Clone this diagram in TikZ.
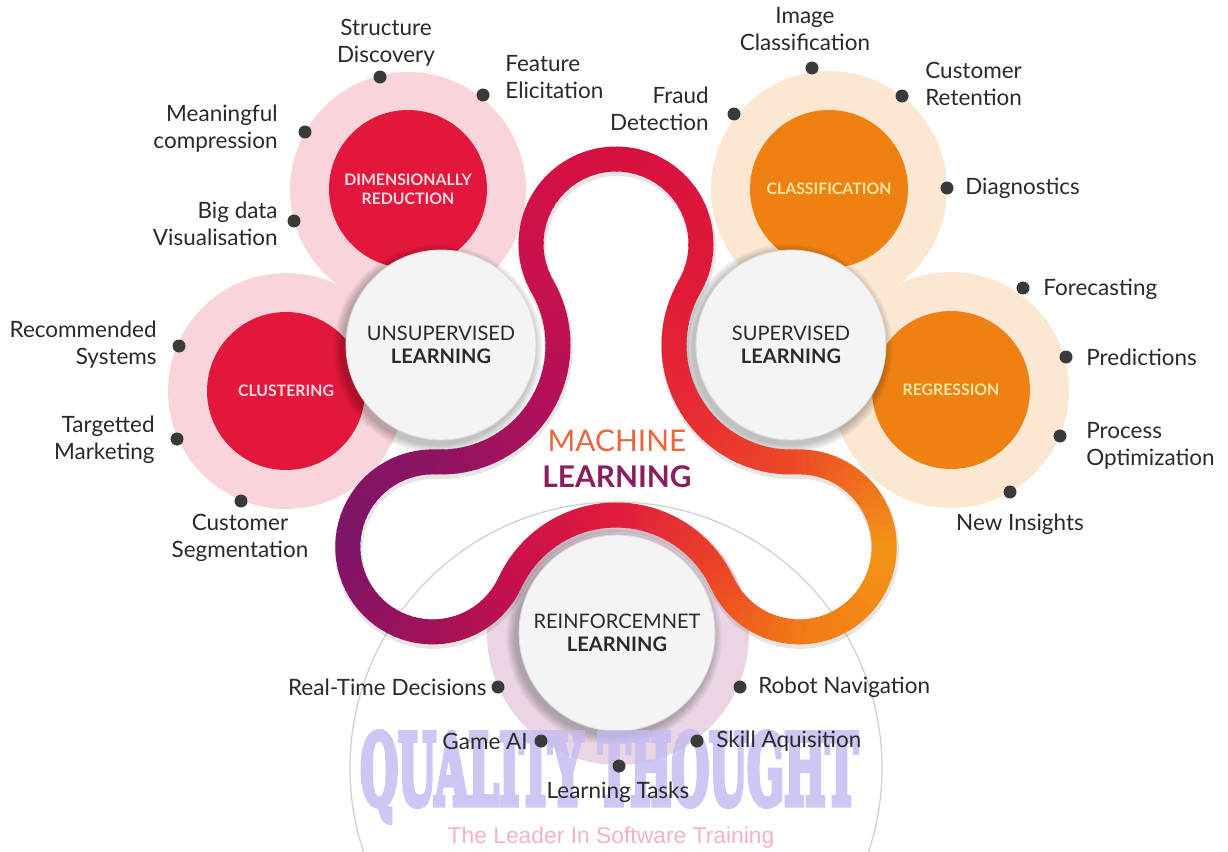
\documentclass[tikz,border=0pt]{standalone}
\usepackage{fontspec}
\setmainfont{Lato}
\newfontfamily\wmfont{DejaVu Serif}
\newfontfamily\wmsans{Liberation Sans}
\usetikzlibrary{calc}
\definecolor{pinkring}{HTML}{F9D4DB}
\definecolor{redc}{HTML}{E3163C}
\definecolor{peach}{HTML}{FCE7D2}
\definecolor{orangec}{HTML}{EF8112}
\definecolor{lav}{HTML}{EBD5E4}
\definecolor{whitec}{HTML}{F4F4F4}
\definecolor{dotc}{HTML}{3A3A3A}
\definecolor{txt}{HTML}{2A2A2A}
\definecolor{pinktxt}{HTML}{FFDDE4}
\definecolor{yeltxt}{HTML}{FFE7A6}
\definecolor{machc}{HTML}{E8673E}
\definecolor{learnc}{HTML}{8C1E5E}
\definecolor{wmblue}{HTML}{C2BAF1}
\definecolor{wmpink}{HTML}{F4B3C3}
\definecolor{wmgrey}{HTML}{D0D0D0}
% ribbon colours
\definecolor{ca}{HTML}{C8114F}
\definecolor{cb}{HTML}{D6103F}
\definecolor{cc}{HTML}{E01A38}
\definecolor{cd}{HTML}{E62A35}
\definecolor{ce}{HTML}{EC4A26}
\definecolor{cf}{HTML}{F39416}
\definecolor{cg}{HTML}{F27A16}
\definecolor{ch}{HTML}{EC4A24}
\definecolor{ci}{HTML}{E01C3E}
\definecolor{cj}{HTML}{C60F4C}
\definecolor{ck}{HTML}{A3115A}
\definecolor{cl}{HTML}{7C1467}
\definecolor{cm}{HTML}{8E1462}
\definecolor{cn}{HTML}{B0105A}
\newcommand\ribarc[6]{%
  \foreach \i in {0,...,19}{%
    \pgfmathsetmacro\aA{#3+(#4-#3)*\i/20}%
    \pgfmathsetmacro\aB{#3+(#4-#3)*(\i+1.2)/20}%
    \pgfmathtruncatemacro\pc{100-100*(\i+0.5)/20}%
    \draw[line width=0.5cm, #5!\pc!#6] ($(#1)+(\aA:#2)$) arc[start angle=\aA, end angle=\aB, radius=#2];%
  }}
\newcommand\heavytext[1]{\special{pdf:literal direct 2 Tr 4 w}#1\special{pdf:literal direct 0 Tr}}
\begin{document}
\begin{tikzpicture}[x=0.02cm,y=-0.02cm,
  lbl/.style={font=\fontsize{12.8}{15.4}\selectfont, text=txt, inner sep=0pt},
  dotst/.style={circle, fill=dotc, inner sep=0pt, minimum size=0.26cm},
  outer/.style={circle, inner sep=0pt, minimum size=4.72cm},
  inner/.style={circle, inner sep=0pt, minimum size=3.16cm, font=\bfseries\fontsize{9}{10.8}\selectfont, align=center},
  core/.style={circle, inner sep=0pt, fill=whitec, draw=black!14, line width=0.5pt, align=center, text=txt, font=\fontsize{11.4}{13.2}\selectfont},
  shad/.style={fill=black, fill opacity=0.045},
  wmtext/.style={font=\wmfont\bfseries\fontsize{55}{55}\selectfont, text=wmblue, xscale=0.45, inner sep=0pt}
]
\fill[white] (0,0) rectangle (1228,852);
\useasboundingbox (0,0) rectangle (1228,852);

% centres
\coordinate (T) at (616,244);
\coordinate (U) at (441,345);
\coordinate (S) at (791,345);
\coordinate (RL) at (616,632);
\coordinate (RLw) at (617,633);
\coordinate (L) at (432.8,546.9);
\coordinate (R) at (799.2,546.9);

% watermark circle
\draw[wmgrey, line width=0.7pt] (616,768) circle (266);

% outer rings
\node[outer, fill=pinkring] (dimring) at (408,190) {};
\node[outer, fill=pinkring] (clusring) at (286,391) {};
\node[outer, fill=peach] (classring) at (829,189) {};
\node[outer, fill=peach] (regring) at (951,390) {};
\node[circle, inner sep=0pt, minimum size=5.24cm, fill=lav] (rlring) at (618,634) {};

% inner coloured circles
\node[inner, fill=redc, text=pinktxt] (dim) at (408,189) {DIMENSIONALLY\\REDUCTION};
\node[inner, fill=redc, text=pinktxt] (clus) at (286,391) {CLUSTERING};
\node[inner, fill=orangec, text=yeltxt] (class) at (829,189) {CLASSIFICATION};
\node[inner, fill=orangec, text=yeltxt] (reg) at (951,390) {REGRESSION};

% shadows of core circles
\foreach \cn/\r in {U/95, S/95, RLw/98}{
  \foreach \k in {1,...,6}{
    \fill[shad] ($(\cn)+(-3,4)$) circle ({\r+\k*1.6});
  }
}

% core circles
\node[core, minimum size=3.8cm] (unsup) at (U) {UNSUPERVISED\\\textbf{LEARNING}};
\node[core, minimum size=3.8cm] (sup) at (S) {SUPERVISED\\\textbf{LEARNING}};
\node[core, minimum size=3.92cm] (rein) at (RLw) {REINFORCEMNET\\\textbf{LEARNING}};

% ribbon shadow
\draw[line width=0.56cm, black, draw opacity=0.10]
  ($(T)+(150:85)+(1,3)$) arc[start angle=150, end angle=390, radius=85]
  arc[start angle=210, end angle=87.7, radius=117]
  arc[start angle=-92.3, end angle=155.1, radius=85]
  arc[start angle=-24.9, end angle=-155.1, radius=117]
  arc[start angle=24.9, end angle=272.3, radius=85]
  arc[start angle=92.3, end angle=-30, radius=117];

% ribbon (gradient)
\ribarc{T}{85}{150}{270}{ca}{cb}
\ribarc{T}{85}{270}{390}{cb}{cc}
\ribarc{S}{117}{210}{148.85}{cc}{cd}
\ribarc{S}{117}{148.85}{87.7}{cd}{ce}
\ribarc{R}{85}{-92.3}{0}{ce}{cf}
\ribarc{R}{85}{0}{90}{cf}{cg}
\ribarc{R}{85}{90}{155.1}{cg}{ch}
\ribarc{RL}{117}{-24.9}{-90}{ch}{ci}
\ribarc{RL}{117}{-90}{-155.1}{ci}{cj}
\ribarc{L}{85}{24.9}{90}{cj}{ck}
\ribarc{L}{85}{90}{180}{ck}{cl}
\ribarc{L}{85}{180}{272.3}{cl}{cm}
\ribarc{U}{117}{92.3}{31}{cm}{cn}
\ribarc{U}{117}{31}{-30}{cn}{ca}

% centre title
\node[font=\fontsize{17}{20}\selectfont, text=machc, inner sep=0pt] (mach) at (617,441) {MACHINE};
\node[font=\bfseries\fontsize{17}{20}\selectfont, text=learnc, inner sep=0pt] (mlearn) at (617,477) {LEARNING};

% watermark (glyphs filled and stroked for a heavier face)
\begin{scope}[transparency group, opacity=0.8]
  \node[wmtext] (wm) at (609,777) {\heavytext{QUALITY THOUGHT}};
\end{scope}
\node[font=\wmsans\fontsize{13}{13}\selectfont, text=wmpink, inner sep=0pt] (wm2) at (611,838) {The Leader In Software Training};

% dots
\node[dotst] (d1) at (380,77) {};
\node[dotst] (d2) at (483,95) {};
\node[dotst] (d3) at (305,132) {};
\node[dotst] (d4) at (294,221) {};
\node[dotst] (d5) at (179,346) {};
\node[dotst] (d6) at (177,439) {};
\node[dotst] (d7) at (241,501) {};
\node[dotst] (d8) at (812,68) {};
\node[dotst] (d9) at (734,114) {};
\node[dotst] (d10) at (902,96) {};
\node[dotst] (d11) at (947,188) {};
\node[dotst] (d12) at (1023,288) {};
\node[dotst] (d13) at (1066,357) {};
\node[dotst] (d14) at (1060,436) {};
\node[dotst] (d15) at (1010,492) {};
\node[dotst] (d16) at (498,687) {};
\node[dotst] (d17) at (740,687) {};
\node[dotst] (d18) at (541,741) {};
\node[dotst] (d19) at (697,741) {};
\node[dotst] (d20) at (619,766) {};

% labels
\node[lbl, align=center] (l1) at (386,43) {Structure\\Discovery};
\node[lbl, align=left, anchor=west] (l2) at (505,77) {Feature\\Elicitation};
\node[lbl, align=right, anchor=east] (l3) at (278,129) {Meaningful\\compression};
\node[lbl, align=right, anchor=east] (l4) at (278,224) {Big data\\Visualisation};
\node[lbl, align=right, anchor=east] (l5) at (157,345) {Recommended\\Systems};
\node[lbl, align=right, anchor=east] (l6) at (155,440) {Targetted\\Marketing};
\node[lbl, align=center] (l7) at (240,538) {Customer\\Segmentation};
\node[lbl, align=center] (l8) at (805,29) {Image\\Classification};
\node[lbl, align=right, anchor=east] (l9) at (709,109) {Fraud\\Detection};
\node[lbl, align=left, anchor=west] (l10) at (925,84) {Customer\\Retention};
\node[lbl, anchor=west] (l11) at (965,188) {Diagnostics};
\node[lbl, anchor=west] (l12) at (1043,289) {Forecasting};
\node[lbl, anchor=west] (l13) at (1086,357) {Predictions};
\node[lbl, align=left, anchor=west] (l14) at (1086,446) {Process\\Optimization};
\node[lbl] (l15) at (1020,524) {New Insights};
\node[lbl, anchor=east] (l16) at (487,687) {Real-Time Decisions};
\node[lbl, anchor=west] (l17) at (758,687) {Robot Navigation};
\node[lbl, anchor=east] (l18) at (528,741) {Game AI};
\node[lbl, anchor=west] (l19) at (716,741) {Skill Aquisition};
\node[lbl] (l20) at (618,792) {Learning Tasks};
\end{tikzpicture}
\end{document}
